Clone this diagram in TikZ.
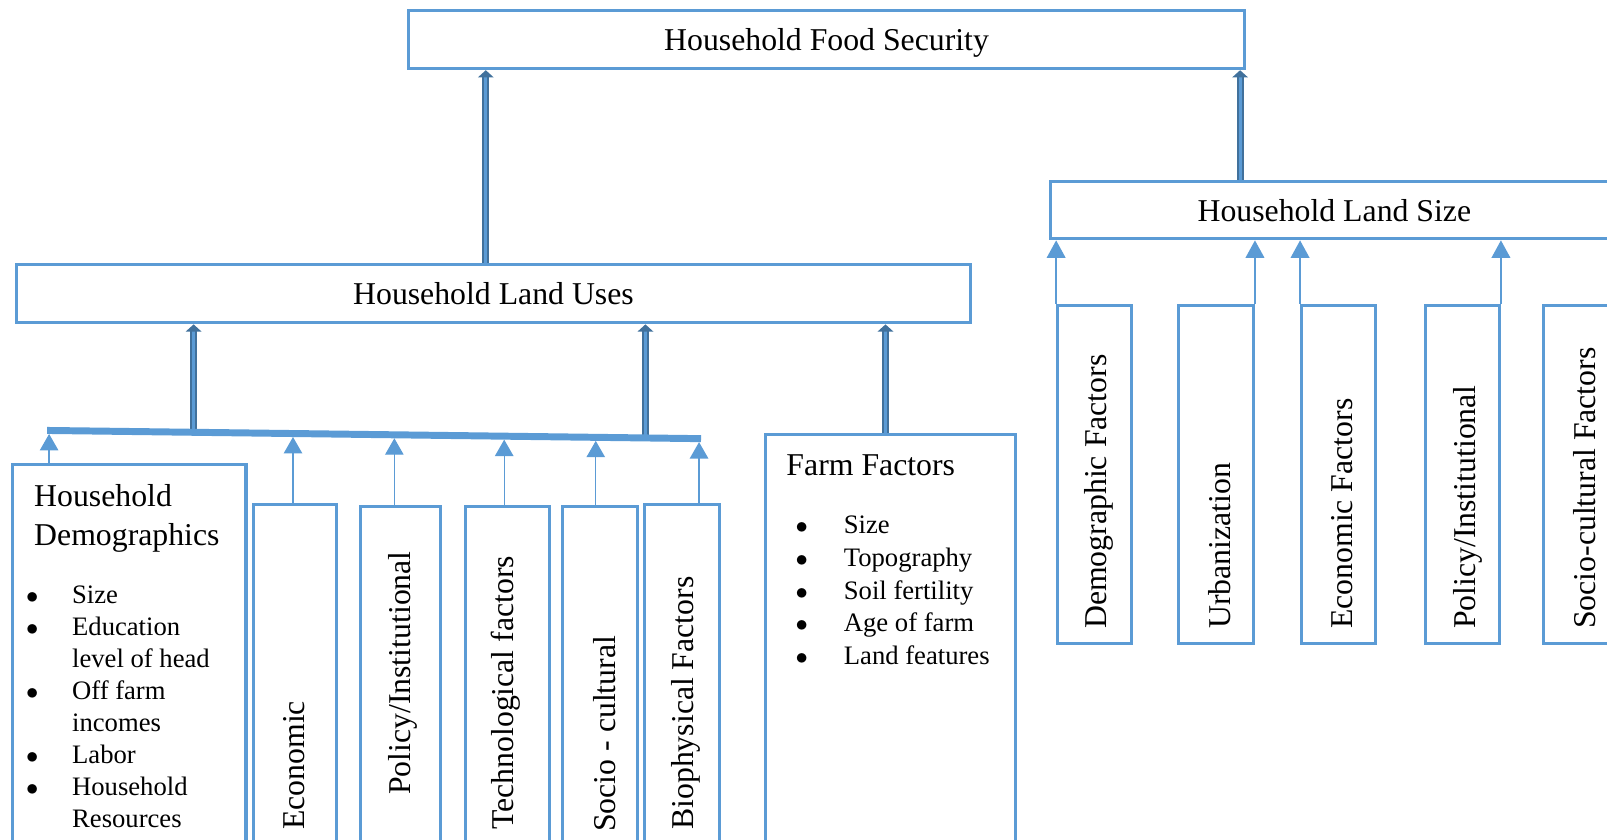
\documentclass[tikz,border=0pt]{standalone}
\usepackage{fontspec}
\setmainfont{Liberation Serif}
\usetikzlibrary{arrows.meta}
\definecolor{boxBlue}{RGB}{91,155,213}
\definecolor{arrowDark}{RGB}{65,113,156}
\tikzset{
    % Style for the framed boxes
    factor box/.style={
        draw=boxBlue, line width=1.5pt, fill=white,
        inner sep=0pt
    },
    % Style for box titles
    title label/.style={
        font=\fontsize{15.5}{19}\selectfont,
        inner sep=0pt
    },
    % Style for rotated labels, starting at the bottom
    side label/.style={
        title label, rotate=90, anchor=west
    },
    % Style for bullet lists
    list label/.style={
        font=\fontsize{13}{15.6}\selectfont,
        inner sep=0pt, anchor=base west
    },
    thin arrow/.style={
        draw=boxBlue, line width=0.6pt,
        -{Triangle[length=8pt,width=9pt]}
    },
    side arrow/.style={
        draw=boxBlue, line width=1pt,
        -{Triangle[length=8.5pt,width=9pt]}
    },
    thick arrow/.style={
        draw=arrowDark, line width=1pt,
        double=boxBlue, double distance=1.5pt,
        -{Triangle[length=3.5pt,width=7.5pt]}
    }
}

\begin{document}
\begin{tikzpicture}[x=0.5pt,y=-0.5pt]

% Set the canvas size
\useasboundingbox (0,0) rectangle (1568,819);
\clip (0,0) rectangle (1568,819);

% Top boxes
\node[factor box, title label, text depth=0pt, minimum width=407.5pt, minimum height=28.5pt] (fs) at (806.5,38.5) {Household Food Security};
\node[factor box, title label, text depth=0pt, minimum width=465.5pt, minimum height=28.5pt] (lu) at (481.5,286.5) {Household Land Uses};
\node[factor box, title label, text depth=0pt, minimum width=277pt, minimum height=28pt] (ls) at (1302,205) {Household Land Size};

% Boxes below the land uses
\node[factor box, minimum width=114pt, minimum height=203.5pt] (hd) at (126,656.5) {};
\node[factor box, minimum width=40.5pt, minimum height=184pt] (econ) at (287.5,676) {};
\node[factor box, minimum width=39pt, minimum height=183pt] (policy) at (391,677) {};
\node[factor box, minimum width=41pt, minimum height=183pt] (tech) at (495,677) {};
\node[factor box, minimum width=36.5pt, minimum height=183pt] (socio) at (585.5,677) {};
\node[factor box, minimum width=36.5pt, minimum height=184pt] (bio) at (665.5,676) {};
\node[factor box, minimum width=122pt, minimum height=218pt] (farm) at (869,642) {};

% Boxes below the land size
\node[factor box, minimum width=36pt, minimum height=165pt] (demof) at (1068,463) {};
\node[factor box, minimum width=36.5pt, minimum height=165pt] (urban) at (1186.5,463) {};
\node[factor box, minimum width=36pt, minimum height=165pt] (econf) at (1306,463) {};
\node[factor box, minimum width=36pt, minimum height=165pt] (policyf) at (1427,463) {};
\node[factor box, minimum width=36pt, minimum height=165pt] (sociof) at (1542,463) {};

% Texts in the left boxes
\node[title label, anchor=base west, align=left] (hdtitle) at (33,532) {Household\\Demographics};
\node[list label] (hdlist) at (25,588.6) {\begin{tabular}[t]{@{}p{22.5pt}@{}l@{}}
$\bullet$ & Size\\
$\bullet$ & Education\\
 & level of head\\
$\bullet$ & Off farm\\
 & incomes\\
$\bullet$ & Labor\\
$\bullet$ & Household\\
 & Resources
\end{tabular}};
\node[side label] (econtext) at (287,810) {Economic};
\node[side label] (policytext) at (393,776) {Policy/Institutional};
\node[side label] (techtext) at (493,810) {Technological factors};
\node[side label] (sociotext) at (590,812) {Socio - cultural};
\node[side label] (biotext) at (669,810) {Biophysical Factors};

\node[title label, anchor=base west] (farmtitle) at (767,464) {Farm Factors};
\node[list label, font=\fontsize{13}{16}\selectfont] (farmlist) at (776,520.6) {\begin{tabular}[t]{@{}p{23.5pt}@{}l@{}}
$\bullet$ & Size\\
$\bullet$ & Topography\\
$\bullet$ & Soil fertility\\
$\bullet$ & Age of farm\\
$\bullet$ & Land features
\end{tabular}};

% Texts in the right boxes
\node[side label] (demoftext) at (1072,614) {Demographic Factors};
\node[side label] (urbantext) at (1190,614) {Urbanization};
\node[side label] (econftext) at (1310,614) {Economic Factors};
\node[side label] (policyftext) at (1432,614) {Policy/Institutional};
\node[side label] (socioftext) at (1546,614) {Socio-cultural Factors};

% Points on the joining bar
\coordinate (barL) at (46,420);
\coordinate (barR) at (684,428);
\path (barL) -- (barR)
    coordinate[pos=0.003] (bhd)
    coordinate[pos=0.376] (becon)
    coordinate[pos=0.531] (bpolicy)
    coordinate[pos=0.699] (btech)
    coordinate[pos=0.839] (bsocio)
    coordinate[pos=0.997] (bbio)
    coordinate[pos=0.224] (bupA)
    coordinate[pos=0.915] (bupB);

% Thin arrows up to the bar
\draw[thin arrow, shorten >=1.7pt] (hd.north -| bhd) -- (bhd);
\draw[thin arrow, shorten >=1.7pt] (econ.north -| becon) -- (becon);
\draw[thin arrow, shorten >=1.7pt] (policy.north -| bpolicy) -- (bpolicy);
\draw[thin arrow, shorten >=1.7pt] (tech.north -| btech) -- (btech);
\draw[thin arrow, shorten >=1.7pt] (socio.north -| bsocio) -- (bsocio);
\draw[thin arrow, shorten >=1.7pt] (bio.north -| bbio) -- (bbio);

% Thick arrows up to the land uses
\draw[thick arrow] (bupA) -- (bupA |- lu.south);
\draw[thick arrow] (bupB) -- (bupB |- lu.south);
\draw[thick arrow] ([xshift=-2.5pt]farm.north) -- ([xshift=-2.5pt]farm.north |- lu.south);

% The bar
\draw[boxBlue, line width=3.4pt] (barL) -- (barR);

% Arrows up to the land size
\draw[side arrow] (demof.north west) -- (demof.north west |- ls.south);
\draw[side arrow] (urban.north east) -- (urban.north east |- ls.south);
\draw[side arrow] (econf.north west) -- (econf.north west |- ls.south);
\draw[side arrow] (policyf.north east) -- (policyf.north east |- ls.south);

% Thick arrows up to the food security
\draw[thick arrow] ([xshift=-3.75pt]lu.north) -- ([xshift=-3.75pt]lu.north |- fs.south);
\draw[thick arrow] ([xshift=-46pt]ls.north) -- ([xshift=-46pt]ls.north |- fs.south);

\end{tikzpicture}
\end{document}
